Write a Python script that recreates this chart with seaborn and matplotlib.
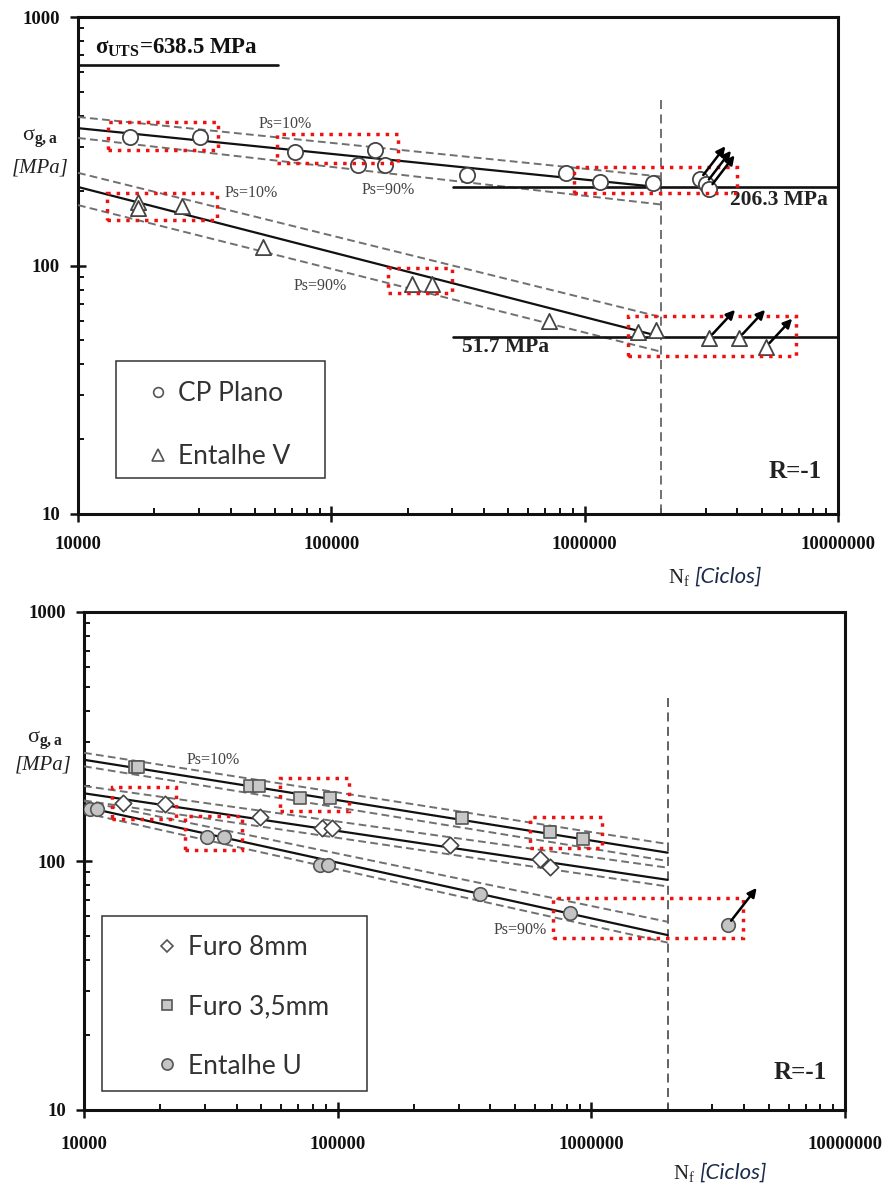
import numpy as np
import pandas as pd
import matplotlib
matplotlib.use('Agg')
import matplotlib.pyplot as plt
import seaborn as sns
from matplotlib.lines import Line2D
from matplotlib.patches import Rectangle
from matplotlib.ticker import FixedLocator, FixedFormatter, LogLocator, NullFormatter

sns.set_style('white')
plt.rcParams['font.family'] = ['Liberation Serif', 'DejaVu Serif']
plt.rcParams['mathtext.fontset'] = 'custom'
plt.rcParams['mathtext.rm'] = 'Liberation Serif'
plt.rcParams['mathtext.it'] = 'Liberation Serif:italic'
plt.rcParams['mathtext.bf'] = 'Liberation Serif:bold'

# ---------------- DATA ----------------
x_ticks = [10000, 100000, 1000000, 10000000]
x_tick_labels = ['10000', '100000', '1000000', '10000000']
y_ticks = [10, 100, 1000]
y_tick_labels = ['10', '100', '1000']

# Top chart: CP Plano (circles)
cp_N = [16000, 30300, 72000, 127000, 149000, 163000, 344000, 841000, 1150000, 1860000]
cp_S = [329, 329, 286, 254, 292, 254, 231, 236, 217, 215]
cp_run_N = [2850000, 3000000, 3100000]
cp_run_S = [222, 213, 204]
# Top chart: Entalhe V (triangles)
v_N = [17300, 17300, 25800, 53800, 209000, 250000, 721000, 1630000, 1910000]
v_S = [180, 170, 174, 119, 84, 84, 60, 54, 55]
v_run_N = [3090000, 4060000, 5190000]
v_S_run = [51, 51, 47]

# S-N curves (top)
curve_N = [10000, 2000000]
cp_mean_S = [357, 206.3]
cp_p10_S = [396, 228]
cp_p90_S = [326, 176]
v_mean_S = [207, 51.7]
v_p10_S = [236, 62]
v_p90_S = [175, 45]
limit_N = [302000, 10000000]
cp_limit = 206.3
v_limit = 51.7
uts_N = [10000, 61700]
uts_S = 638.5
runout_N = 2000000

# Top red boxes (N0, N1, S0, S1)
top_box_N0 = [13140, 61000, 906000, 13000, 168000, 1480000]
top_box_N1 = [35700, 184000, 3990000, 35400, 300000, 6820000]
top_box_S0 = [292, 258, 196, 152, 77.5, 43.3]
top_box_S1 = [378, 338, 249, 196, 97.7, 62.7]

# Bottom chart
f8_N = [14250, 20800, 49400, 86700, 94800, 277000, 627000, 687000]
f8_S = [171, 170, 150, 136, 136, 116, 102, 94.6]
f35_N = [15900, 16300, 45000, 49000, 71000, 93300, 309000, 687000, 927000]
f35_S = [239, 239, 200, 200, 179, 179, 149, 131, 122]
u_N = [10550, 11250, 30500, 35700, 85200, 91600, 364000, 824000]
u_S = [162, 162, 125, 125, 96.4, 96.4, 74, 61.8]
u_run_N = [3450000]
u_run_S = [55.3]

f35_mean_S = [255, 108]
f35_p10_S = [272, 117]
f35_p90_S = [240, 100]
f8_mean_S = [187, 84]
f8_p10_S = [200, 94]
f8_p90_S = [175, 79]
u_mean_S = [165, 50.4]
u_p10_S = [174, 57]
u_p90_S = [156, 47]

bot_box_N0 = [12900, 25000, 59300, 572000, 706000]
bot_box_N1 = [23000, 42000, 111000, 1100000, 3960000]
bot_box_S0 = [147.6, 111, 159, 113, 49]
bot_box_S1 = [198, 152, 215, 150, 71]

# ---------------- FIGURE ----------------
W, H = 889, 1188
fig = plt.figure(figsize=(W / 100, H / 100), dpi=100)
def fx(px):
    return px / W
def fy(py):
    return 1 - py / H

ax1 = fig.add_axes([fx(78), fy(514), fx(838) - fx(78), fy(17) - fy(514)])
ax2 = fig.add_axes([fx(84), fy(1110), fx(845) - fx(84), fy(612) - fy(1110)])

def style_axes(ax, xpad):
    ax.set_xscale('log')
    ax.set_yscale('log')
    ax.set_xlim(1e4, 1e7)
    ax.set_ylim(10, 1000)
    ax.xaxis.set_major_locator(FixedLocator(x_ticks))
    ax.xaxis.set_major_formatter(FixedFormatter(x_tick_labels))
    ax.yaxis.set_major_locator(FixedLocator(y_ticks))
    ax.yaxis.set_major_formatter(FixedFormatter(y_tick_labels))
    ax.xaxis.set_minor_locator(LogLocator(base=10, subs=np.arange(2, 10)))
    ax.yaxis.set_minor_locator(LogLocator(base=10, subs=np.arange(2, 10)))
    ax.xaxis.set_minor_formatter(NullFormatter())
    ax.yaxis.set_minor_formatter(NullFormatter())
    for sp in ax.spines.values():
        sp.set_linewidth(2.2)
        sp.set_color('#111111')
    ax.tick_params(which='both', bottom=True, left=True, top=False, right=False)
    ax.tick_params(which='major', direction='inout', length=12, width=1.8,
                   colors='#111111', labelsize=13.5)
    ax.tick_params(which='minor', direction='in', length=4.5, width=1.4, colors='#111111')
    ax.tick_params(axis='x', which='major', pad=xpad)
    ax.tick_params(axis='y', which='major', pad=7)
    for lab in ax.get_xticklabels() + ax.get_yticklabels():
        lab.set_fontweight('bold')
    ax.grid(False)
    ax.set_xlabel('')
    ax.set_ylabel('')

def sn_line(ax, N, S, kind):
    if kind == 'mean':
        sns.lineplot(x=N, y=S, ax=ax, color='#111111', linewidth=1.6,
                     estimator=None, sort=False, legend=False, zorder=3)
    else:
        sns.lineplot(x=N, y=S, ax=ax, color='#707070', linewidth=1.4,
                     linestyle=(0, (4, 2.2)), estimator=None, sort=False,
                     legend=False, zorder=3)

def red_boxes(ax, N0, N1, S0, S1):
    for a, b, c, d in zip(N0, N1, S0, S1):
        ax.add_patch(Rectangle((a, c), b - a, d - c, fill=False, edgecolor='#ee1111',
                               linewidth=2.5, linestyle=(0, (1, 1.7)), zorder=8))

def arrows(ax, N, S, fxm, fym):
    for n, s in zip(N, S):
        ax.annotate('', xy=(n * fxm, s * fym), xytext=(n, s),
                    arrowprops=dict(arrowstyle='-|>', color='black', lw=1.8,
                                    shrinkA=4, shrinkB=0, mutation_scale=13),
                    zorder=9)

# ---------- TOP ----------
style_axes(ax1, 10)
for S in (cp_p10_S, cp_p90_S, v_p10_S, v_p90_S):
    sn_line(ax1, curve_N, S, 'band')
for S in (cp_mean_S, v_mean_S):
    sn_line(ax1, curve_N, S, 'mean')
sns.lineplot(x=limit_N, y=[cp_limit] * 2, ax=ax1, color='#111111', linewidth=1.9,
             estimator=None, legend=False, zorder=3)
sns.lineplot(x=limit_N, y=[v_limit] * 2, ax=ax1, color='#111111', linewidth=1.9,
             estimator=None, legend=False, zorder=3)
sns.lineplot(x=uts_N, y=[uts_S] * 2, ax=ax1, color='#111111', linewidth=1.9,
             estimator=None, legend=False, zorder=3)
sns.lineplot(x=[runout_N] * 2, y=[463, 10], ax=ax1, color='#666666', linewidth=1.3,
             linestyle=(0, (5, 3)), estimator=None, sort=False, legend=False, zorder=2)

sns.scatterplot(x=cp_N + cp_run_N, y=cp_S + cp_run_S, ax=ax1, marker='o', s=120,
                color='white', edgecolor='#444444', linewidth=1.3, zorder=6, legend=False)
sns.scatterplot(x=v_N + v_run_N, y=v_S + v_S_run, ax=ax1, marker='^', s=120,
                color='white', edgecolor='#444444', linewidth=1.3, zorder=6, legend=False)
arrows(ax1, cp_run_N, cp_run_S, 1.26, 1.36)
arrows(ax1, v_run_N, v_S_run, 1.27, 1.30)
red_boxes(ax1, top_box_N0, top_box_N1, top_box_S0, top_box_S1)

ax1.text(11670, 750, 'σ$_{\\mathbf{UTS}}$=638.5 MPa', fontsize=16.5, fontweight='bold',
         ha='left', va='center', color='#111111')
ax1.text(65800, 372, 'Ps=10%', fontsize=11.5, ha='center', va='center', color='#444444')
ax1.text(168000, 201, 'Ps=90%', fontsize=11.5, ha='center', va='center', color='#444444')
ax1.text(48300, 196, 'Ps=10%', fontsize=11.5, ha='center', va='center', color='#444444')
ax1.text(90500, 83, 'Ps=90%', fontsize=11.5, ha='center', va='center', color='#444444')
ax1.text(5.85e6, 183, '206.3 MPa', fontsize=15.5, fontweight='bold', ha='center',
         va='center', color='#222222')
ax1.text(4.87e5, 47, '51.7 MPa', fontsize=15.5, fontweight='bold', ha='center',
         va='center', color='#222222')
ax1.text(6.8e6, 14.8, 'R=-1', fontsize=18, fontweight='bold', ha='center',
         va='center', color='#222222')

# ---------- BOTTOM ----------
style_axes(ax2, 12.5)
for S in (f35_p10_S, f35_p90_S, f8_p10_S, f8_p90_S, u_p10_S, u_p90_S):
    sn_line(ax2, curve_N, S, 'band')
for S in (f35_mean_S, f8_mean_S, u_mean_S):
    sn_line(ax2, curve_N, S, 'mean')
sns.lineplot(x=[runout_N] * 2, y=[452, 10], ax=ax2, color='#555555', linewidth=1.3,
             linestyle=(0, (5, 3)), estimator=None, sort=False, legend=False, zorder=2)
sns.scatterplot(x=f8_N, y=f8_S, ax=ax2, marker='D', s=70, color='white',
                edgecolor='#444444', linewidth=1.2, zorder=6, legend=False)
sns.scatterplot(x=f35_N, y=f35_S, ax=ax2, marker='s', s=75, color='#c8c8c8',
                edgecolor='#555555', linewidth=1.2, zorder=6, legend=False)
sns.scatterplot(x=u_N + u_run_N, y=u_S + u_run_S, ax=ax2, marker='o', s=95,
                color='#c4c4c4', edgecolor='#555555', linewidth=1.2, zorder=6, legend=False)
arrows(ax2, u_run_N, u_run_S, 1.30, 1.41)
red_boxes(ax2, bot_box_N0, bot_box_N1, bot_box_S0, bot_box_S1)
ax2.text(32200, 255, 'Ps=10%', fontsize=11.5, ha='center', va='center', color='#444444')
ax2.text(524000, 52.9, 'Ps=90%', fontsize=11.5, ha='center', va='center', color='#444444')
ax2.text(6.64e6, 14.1, 'R=-1', fontsize=18, fontweight='bold', ha='center',
         va='center', color='#222222')

# ---------- axis titles ----------
for (sx, sy, mx, my) in ((40, 138, 40, 168), (45, 740, 43, 765)):
    fig.text(fx(sx), fy(sy), 'σ$_{\\mathbf{g,a}}$', fontsize=16, ha='center',
             va='center', color='#222222')
    fig.text(fx(mx), fy(my), '[MPa]', fontsize=15, style='italic', ha='center',
             va='center', color='#222222')
for (nx, ny) in ((690, 577), (695, 1173)):
    fig.text(fx(nx), fy(ny), 'N$_{\\mathregular{f}}$', fontsize=15, ha='right',
             va='center', color='#222222')
    fig.text(fx(nx + 4), fy(ny), '[Ciclos]', fontsize=16, style='italic',
             family=['Lato', 'DejaVu Sans'], ha='left', va='center', color='#1c2b4c')

# ---------- legends ----------
fig.add_artist(Rectangle((fx(116), fy(478)), fx(325) - fx(116), fy(361) - fy(478),
                         transform=fig.transFigure, fill=False, edgecolor='#333333',
                         linewidth=1.1))
fig.add_artist(Rectangle((fx(102), fy(1091)), fx(367) - fx(102), fy(916) - fy(1091),
                         transform=fig.transFigure, fill=False, edgecolor='#333333',
                         linewidth=1.1))
h_top = [Line2D([], [], linestyle='none', marker='o', markersize=7, markerfacecolor='white',
                markeredgecolor='#555555', markeredgewidth=1.2),
         Line2D([], [], linestyle='none', marker='^', markersize=8, markerfacecolor='white',
                markeredgecolor='#555555', markeredgewidth=1.2)]
leg1 = fig.legend(h_top, ['CP Plano', 'Entalhe V'], loc='upper left',
                  bbox_to_anchor=(fx(142), fy(381)), frameon=False, borderpad=0,
                  borderaxespad=0, handlelength=1.2, handletextpad=0.15,
                  labelspacing=1.45, prop={'family': 'Lato', 'size': 19})
for t in leg1.get_texts():
    t.set_color('#333333')
h_bot = [Line2D([], [], linestyle='none', marker='D', markersize=6.5, markerfacecolor='white',
                markeredgecolor='#555555', markeredgewidth=1.2),
         Line2D([], [], linestyle='none', marker='s', markersize=7, markerfacecolor='#c8c8c8',
                markeredgecolor='#555555', markeredgewidth=1.2),
         Line2D([], [], linestyle='none', marker='o', markersize=8, markerfacecolor='#c4c4c4',
                markeredgecolor='#555555', markeredgewidth=1.2)]
leg2 = fig.legend(h_bot, ['Furo 8mm', 'Furo 3,5mm', 'Entalhe U'], loc='upper left',
                  bbox_to_anchor=(fx(154), fy(935)), frameon=False, borderpad=0,
                  borderaxespad=0, handlelength=1.0, handletextpad=0.3,
                  labelspacing=1.3, prop={'family': 'Lato', 'size': 19})
for t in leg2.get_texts():
    t.set_color('#333333')

fig.savefig('out.png', dpi=100)
